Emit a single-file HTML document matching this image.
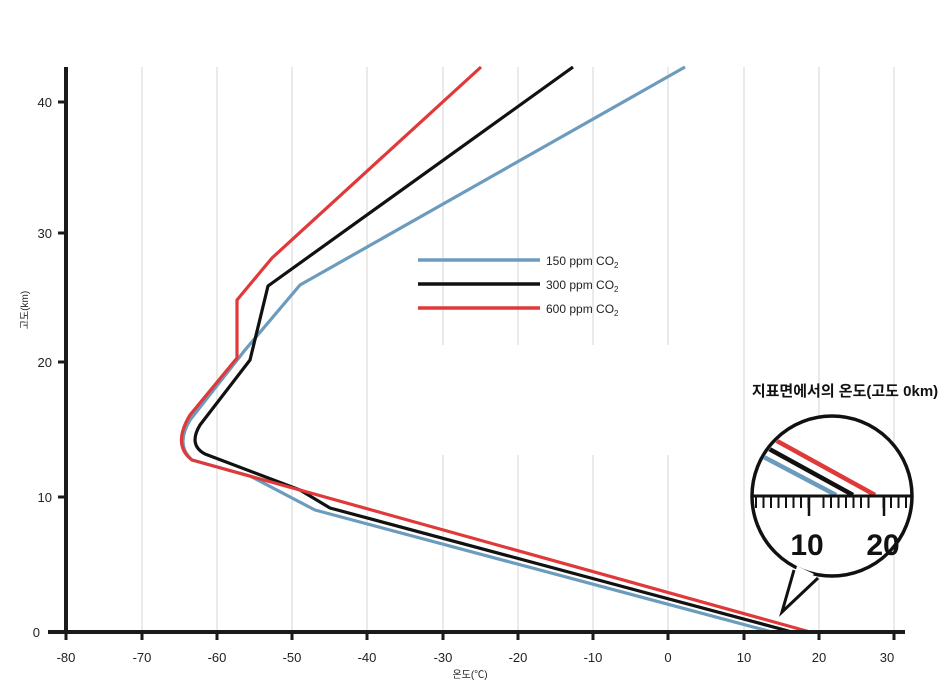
<!DOCTYPE html>
<html><head><meta charset="utf-8"><style>
body{margin:0;background:#fff}
svg text{font-family:"Liberation Sans","Noto Sans CJK KR",sans-serif}
</style></head><body>
<svg width="952" height="688" viewBox="0 0 952 688" xmlns="http://www.w3.org/2000/svg">
<g stroke="#d6d6d6" stroke-width="1">
<line x1="142" y1="67" x2="142" y2="632"/><line x1="217" y1="67" x2="217" y2="632"/>
<line x1="292" y1="67" x2="292" y2="632"/><line x1="367" y1="67" x2="367" y2="632"/>
<line x1="443" y1="67" x2="443" y2="632"/><line x1="518" y1="67" x2="518" y2="632"/>
<line x1="593" y1="67" x2="593" y2="632"/><line x1="668" y1="67" x2="668" y2="632"/>
<line x1="744" y1="67" x2="744" y2="632"/><line x1="819" y1="67" x2="819" y2="632"/>
<line x1="894" y1="67" x2="894" y2="632"/>
</g>
<rect x="400" y="345" width="325" height="110" rx="30" fill="#fff"/>
<g fill="none" stroke-width="3.2" stroke-linejoin="round">
<path stroke="#6b9bbd" d="M685,67 L300,285 L245,350 L190,420 Q175,445 192,460 L250,476 L315,510 L772,632"/>
<path stroke="#111" d="M573,67 L268,286 L250,360 L200,425 Q188,445 205,454 L300,490 L330,508 L792,632"/>
<path stroke="#e0393a" d="M481,67 L272,258 L237,300 L237,358 L190,415 Q172,445 192,460 L810,632"/>
</g>
<line x1="66" y1="67" x2="66" y2="634" stroke="#1a1a1a" stroke-width="4"/>
<line x1="48" y1="632" x2="905" y2="632" stroke="#1a1a1a" stroke-width="4"/>
<g stroke="#1a1a1a" stroke-width="3">
<line x1="66" y1="632" x2="66" y2="640"/><line x1="142" y1="632" x2="142" y2="640"/><line x1="217" y1="632" x2="217" y2="640"/><line x1="292" y1="632" x2="292" y2="640"/><line x1="367" y1="632" x2="367" y2="640"/><line x1="443" y1="632" x2="443" y2="640"/><line x1="518" y1="632" x2="518" y2="640"/><line x1="593" y1="632" x2="593" y2="640"/><line x1="668" y1="632" x2="668" y2="640"/><line x1="744" y1="632" x2="744" y2="640"/><line x1="819" y1="632" x2="819" y2="640"/><line x1="894" y1="632" x2="894" y2="640"/>
<line x1="58" y1="497" x2="66" y2="497"/><line x1="58" y1="362" x2="66" y2="362"/><line x1="58" y1="233" x2="66" y2="233"/><line x1="58" y1="102" x2="66" y2="102"/>
</g>
<g font-size="13" fill="#222" text-anchor="middle">
<text x="66" y="662">-80</text><text x="142" y="662">-70</text><text x="217" y="662">-60</text><text x="292" y="662">-50</text><text x="367" y="662">-40</text><text x="443" y="662">-30</text><text x="518" y="662">-20</text><text x="593" y="662">-10</text><text x="668" y="662">0</text><text x="744" y="662">10</text><text x="819" y="662">20</text><text x="887" y="662">30</text>
</g>
<g font-size="13" fill="#222" text-anchor="end">
<text x="40" y="637">0</text><text x="52" y="502">10</text><text x="52" y="367">20</text><text x="52" y="238">30</text><text x="52" y="107">40</text>
</g>
<text x="470" y="678" font-size="10" fill="#222" text-anchor="middle">온도(℃)</text>
<text transform="translate(28,310) rotate(-90)" font-size="10" fill="#222" text-anchor="middle">고도(km)</text>
<g stroke-width="3.5">
<line x1="418" y1="260" x2="540" y2="260" stroke="#6b9bbd"/>
<line x1="418" y1="284" x2="540" y2="284" stroke="#111"/>
<line x1="418" y1="308" x2="540" y2="308" stroke="#e0393a"/>
</g>
<g font-size="12" fill="#222">
<text x="546" y="265">150 ppm CO<tspan font-size="8" dy="3">2</tspan></text>
<text x="546" y="289">300 ppm CO<tspan font-size="8" dy="3">2</tspan></text>
<text x="546" y="313">600 ppm CO<tspan font-size="8" dy="3">2</tspan></text>
</g>
<text x="845" y="396" font-size="15" font-weight="bold" fill="#111" text-anchor="middle">지표면에서의 온도(고도 0km)</text>
<circle cx="832" cy="496" r="80" fill="#fff" stroke="#111" stroke-width="3.5"/>
<path d="M794,570 L782,612 L818,578" fill="#fff" stroke="#111" stroke-width="3" stroke-linejoin="miter"/>
<path d="M797,566 L787,602 L814,574 Z" fill="#fff"/>
<clipPath id="c"><circle cx="832" cy="496" r="78"/></clipPath>
<g clip-path="url(#c)" stroke-width="4.5">
<line x1="760" y1="455" x2="836" y2="495" stroke="#6b9bbd"/>
<line x1="762" y1="445" x2="853" y2="495" stroke="#111"/>
<line x1="768" y1="436" x2="875" y2="495" stroke="#e0393a"/>
</g>
<line x1="752" y1="496" x2="912" y2="496" stroke="#111" stroke-width="3"/>
<g stroke="#111" stroke-width="2">
<path d="M756,496v12M763.5,496v12M771,496v12M778.5,496v12M786,496v12M793.5,496v12M801,496v12M808.5,496v12M823.5,496v12M831,496v12M838.5,496v12M846,496v12M853.5,496v12M861,496v12M868.5,496v12M883.5,496v12M891,496v12M898.5,496v12M906,496v12"/>
<path d="M809,496v20M884,496v20" stroke-width="2.5"/>
</g>
<g font-size="30" font-weight="bold" fill="#111" text-anchor="middle">
<text x="807" y="555">10</text><text x="883" y="555">20</text>
</g>
</svg>
</body></html>
